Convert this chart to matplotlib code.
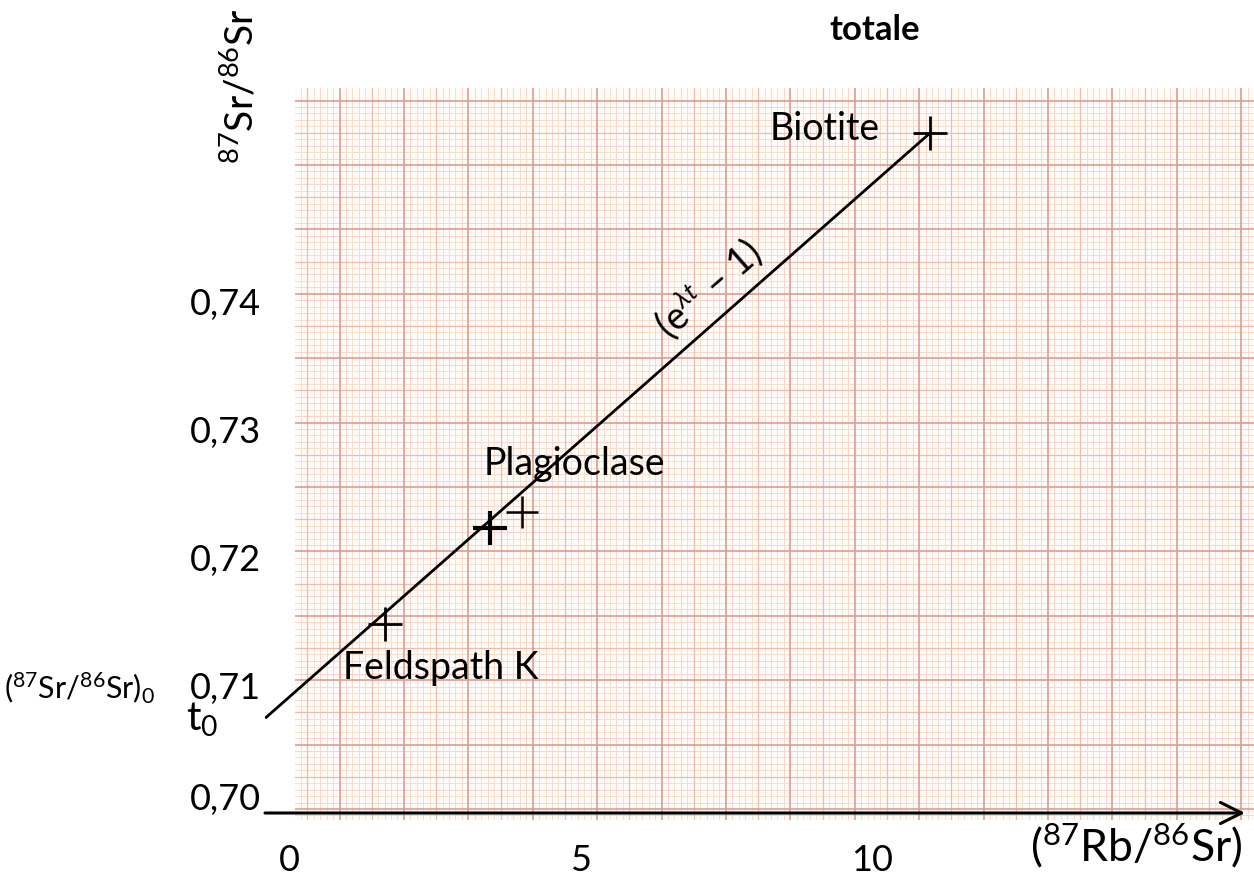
import numpy as np
import matplotlib
matplotlib.use("Agg")
import matplotlib.pyplot as plt
from matplotlib.transforms import ScaledTranslation

plt.rcParams['font.family'] = ['Lato', 'DejaVu Sans']
plt.rcParams['mathtext.fontset'] = 'custom'
plt.rcParams['mathtext.rm'] = 'Lato'
plt.rcParams['mathtext.it'] = 'Lato:italic'
plt.rcParams['mathtext.bf'] = 'Lato:bold'

# ---- data ----
minerals = ["Feldspath K", "Plagioclase", "Plagioclase", "Biotite"]
rb_sr = [1.65, 3.45, 4.00, 10.99]
sr_sr = [0.7148, 0.7223, 0.7235, 0.7531]
isochron_x = [-0.41, 10.99]
isochron_y = [0.7074, 0.7531]
xticks = [0, 5, 10]
xticklabels = ["0", "5", "10"]
yticks = [0.70, 0.71, 0.72, 0.73, 0.74]
yticklabels = ["0,70", "0,71", "0,72", "0,73", "0,74"]

W, H = 1254, 881
fig = plt.figure(figsize=(W / 100, H / 100), dpi=100)

# ---- graph paper background (pixel coords) ----
bg = fig.add_axes([295 / W, (H - 820) / H, (W - 295) / W, (820 - 88) / H])
bg.set_xlim(295, W)
bg.set_ylim(820, 88)
bg.axis('off')
bg.add_patch(plt.Rectangle((295, 88), W - 295, 732, color='#fffbf8', zorder=0))
step = 6.44
for k in range(-10, 160):
    for pos, lo, hi, fn in ((339.5 + k * step, 295, W, bg.axvline),
                            (165 + k * step, 88, 820, bg.axhline)):
        if lo <= pos <= hi:
            if k % 10 == 0:
                fn(pos, color='#df9c8c', lw=1.2, zorder=3)
            elif k % 5 == 0:
                fn(pos, color='#eebcac', lw=0.9, zorder=2)
            else:
                c = '#f8d6ce' if k % 2 else '#f6e0c8'
                fn(pos, color=c, lw=0.7, zorder=1)

# ---- main axes ----
x0px, scx = 289, 58.3
y0px, scy = 813, 12800
left, right, top = 265, 1245, 88
ax = fig.add_axes([left / W, (H - y0px) / H, (right - left) / W, (y0px - top) / H])
ax.set_facecolor('none')
ax.set_xlim((left - x0px) / scx, (right - x0px) / scx)
ax.set_ylim(0.70, 0.70 + (y0px - top) / scy)
for s in ax.spines.values():
    s.set_visible(False)

ax.plot(isochron_x, isochron_y, color='black', lw=2.0, solid_capstyle='butt')
ax.plot(rb_sr[0:1], sr_sr[0:1], '+', color='black', ms=24, mew=2.0)
ax.plot(rb_sr[1:2], sr_sr[1:2], '+', color='black', ms=24, mew=3.0)
ax.plot(rb_sr[2:3], sr_sr[2:3], '+', color='black', ms=23, mew=1.8)
ax.plot(rb_sr[3:4], sr_sr[3:4], '+', color='black', ms=24, mew=2.0)

ax.annotate('', xy=(1.0, 0), xytext=(0, 0), xycoords='axes fraction',
            arrowprops=dict(arrowstyle='->', lw=2.2, color='black',
                            mutation_scale=38, shrinkA=0, shrinkB=0))

ax.set_xticks(xticks, xticklabels, fontsize=26)
ax.set_yticks(yticks, yticklabels, fontsize=26)
ax.tick_params(axis='x', length=0, pad=22)
ax.tick_params(axis='y', length=0, pad=3)
lab0 = ax.get_yticklabels()[0]
lab0.set_transform(lab0.get_transform() + ScaledTranslation(0, 12 / 72, fig.dpi_scale_trans))

# point labels
ax.text(rb_sr[0] - 0.72, sr_sr[0] - 0.0035, minerals[0], fontsize=27, ha='left', va='center')
ax.text(rb_sr[2] + 0.9, sr_sr[2] + 0.0038, minerals[1], fontsize=27, ha='center', va='center')
ax.text(rb_sr[3] - 1.8, sr_sr[3] + 0.0003, minerals[3], fontsize=27, ha='center', va='center')
ax.text(7.2, 0.7409, r'(e$^{\lambda t}$ – 1)', fontsize=27, rotation=41.3,
        ha='center', va='center', rotation_mode='anchor')

# axis titles & annotations (figure pixel positions)
fig.text(240 / W, 1 - 86 / H, r'$^{87}$Sr/$^{86}$Sr', fontsize=28, rotation=90,
         ha='center', va='center')
fig.text(875 / W, 1 - 30 / H, 'totale', fontsize=25, fontweight='bold',
         ha='center', va='center')
fig.text(1136 / W, 1 - 846 / H, r'($^{87}$Rb/$^{86}$Sr)', fontsize=32,
         ha='center', va='center')
fig.text(80 / W, 1 - 688 / H, r'($^{87}$Sr/$^{86}$Sr)$_0$', fontsize=22,
         ha='center', va='center')
fig.text(202 / W, 1 - 720 / H, r't$_0$', fontsize=29, ha='center', va='center')

fig.savefig('out.png', dpi=100)
